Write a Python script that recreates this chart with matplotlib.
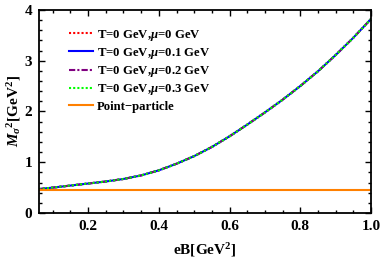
import matplotlib
matplotlib.use("Agg")
import matplotlib.pyplot as plt
from matplotlib.ticker import MultipleLocator

plt.rcParams['font.family'] = 'Liberation Serif'
plt.rcParams['font.weight'] = 'bold'
plt.rcParams['axes.labelweight'] = 'bold'
plt.rcParams['mathtext.fontset'] = 'custom'
plt.rcParams['mathtext.rm'] = 'Liberation Serif:bold'
plt.rcParams['mathtext.it'] = 'Liberation Serif:italic:bold'
plt.rcParams['mathtext.bf'] = 'Liberation Serif:bold'

eB = [0.06, 0.1, 0.15, 0.2, 0.25, 0.3, 0.35, 0.4, 0.45, 0.5,
      0.55, 0.6, 0.65, 0.7, 0.75, 0.8, 0.85, 0.9, 0.95, 1.0]
m_mu0 = [0.47, 0.50, 0.54, 0.58, 0.62, 0.67, 0.74, 0.84, 0.97, 1.12,
         1.30, 1.51, 1.74, 1.98, 2.23, 2.50, 2.79, 3.11, 3.45, 3.82]
m_mu01 = [0.47, 0.50, 0.54, 0.58, 0.62, 0.67, 0.74, 0.84, 0.97, 1.12,
          1.30, 1.51, 1.74, 1.98, 2.23, 2.50, 2.79, 3.11, 3.45, 3.82]
m_mu02 = [0.47, 0.50, 0.54, 0.58, 0.62, 0.67, 0.74, 0.84, 0.97, 1.12,
          1.30, 1.51, 1.74, 1.98, 2.23, 2.50, 2.79, 3.11, 3.45, 3.82]
m_mu03 = [0.47, 0.50, 0.54, 0.58, 0.62, 0.67, 0.74, 0.84, 0.97, 1.12,
          1.30, 1.51, 1.74, 1.98, 2.23, 2.50, 2.79, 3.11, 3.45, 3.82]
point_particle = [0.46] * len(eB)

labels = [r"T=0 GeV,$\mu$=0 GeV", r"T=0 GeV,$\mu$=0.1 GeV",
          r"T=0 GeV,$\mu$=0.2 GeV", r"T=0 GeV,$\mu$=0.3 GeV",
          "Point\u2212particle"]

fig = plt.figure(figsize=(3.82, 2.61), dpi=100)
ax = fig.add_axes([0.103, 0.184, 0.868, 0.778])

ax.plot(eB, m_mu0, color="red", ls=(0, (1, 1)), lw=1.5, label=labels[0])
ax.plot(eB, m_mu01, color="blue", ls="-", lw=1.5, label=labels[1])
ax.plot(eB, m_mu02, color="purple", ls=(0, (3, 1, 1, 1)), lw=1.5, label=labels[2])
ax.plot(eB, m_mu03, color="#00ff00", ls=(0, (1, 1)), lw=1.5, label=labels[3])
ax.plot(eB, point_particle, color="#ff8000", ls="-", lw=1.5, label=labels[4])

ax.set_xlim(0.062, 1.0)
ax.set_ylim(0, 4)
ax.xaxis.set_major_locator(MultipleLocator(0.2))
ax.xaxis.set_minor_locator(MultipleLocator(0.05))
ax.yaxis.set_major_locator(MultipleLocator(1))
ax.yaxis.set_minor_locator(MultipleLocator(0.2))
ax.tick_params(which="both", direction="in", top=True, right=True, labelsize=11, width=1)
ax.tick_params(which="major", length=4, pad=5)
ax.tick_params(which="minor", length=2)
ax.xaxis.set_major_formatter(plt.FuncFormatter(lambda v, p: f"{v:.1f}"))
ax.yaxis.set_major_formatter(plt.FuncFormatter(lambda v, p: f"{v:.0f}"))
for lab in ax.get_xticklabels() + ax.get_yticklabels():
    lab.set_fontweight("bold")
for s in ax.spines.values():
    s.set_linewidth(1.3)

ax.set_xlabel(r"eB[GeV$^2$]", fontsize=11, fontweight="bold", labelpad=6)
ax.set_ylabel(r"$M_\sigma$$^2$[GeV$^2$]", fontsize=11, fontweight="bold", labelpad=1)

ax.legend(loc="upper left", bbox_to_anchor=(0.065, 0.95), frameon=False,
          prop={"size": 9.2, "weight": "bold"}, handlelength=1.9,
          handletextpad=0.3, labelspacing=0.25, borderaxespad=0.2)

fig.savefig("out.png", dpi=100)
